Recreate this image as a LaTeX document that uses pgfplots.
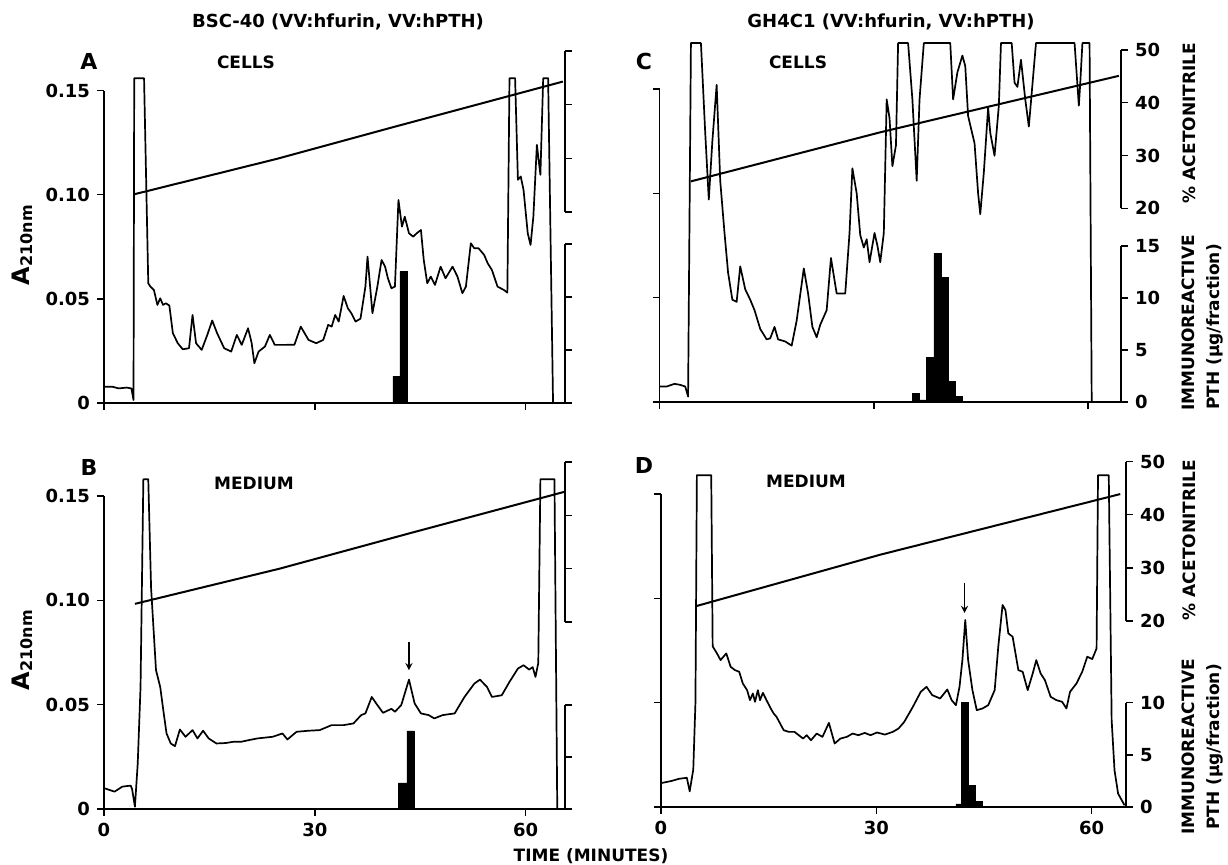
\documentclass[border=0pt]{standalone}
\usepackage{fontspec}
\setmainfont{DejaVu Sans}
\usepackage{pgfplots}
\pgfplotsset{compat=1.18}

\pgfplotsset{
  base/.style={scale only axis, anchor=south west, xmin=0, clip=false,
    tick align=outside, major tick length=3.5pt,
    tick style={black, line width=0.7pt},
    axis line style={line width=0.7pt},
    ticklabel style={font=\fontsize{9}{10}\selectfont\bfseries}},
  main/.style={base, axis x line*=bottom, axis y line*=left, ymin=0, ymax=0.15,
    xtick={0,30,60}, ytick={0,0.05,0.1,0.15}, xticklabels={}, yticklabels={}},
  side/.style={base, axis x line=none, axis y line*=right, yticklabels={}},
  trace/.style={black, line width=0.85pt, mark=none, line join=round},
  grad/.style={black, line width=1pt, mark=none},
  bars/.style={ybar interval, fill=black, draw=black, line width=0.3pt},
}
\newcommand{\lab}{\fontsize{8.5}{9}\selectfont\bfseries}
\newcommand{\ttl}{\fontsize{9}{10}\selectfont\bfseries}
\newcommand{\pan}{\fontsize{11}{12}\selectfont\bfseries}
\newcommand{\absl}{{\fontsize{12}{13}\selectfont A}\raisebox{-1.5pt}{\fontsize{8}{9}\selectfont 210nm}}

\begin{document}
\begin{tikzpicture}
\path[use as bounding box] (0,0) rectangle (614pt,432.5pt);

% ---------------- A: BSC-40 cells ----------------
\begin{axis}[main, at={(52pt,231pt)}, width=230.5pt, height=156.15pt, xmax=65.6,
  yticklabels={0,0.05,0.10,0.15}]
\addplot[trace] coordinates {
(0.1,0.0078) (1.2,0.0078) (2.1,0.0070) (3.2,0.0074) (3.9,0.0070) (4.2,0.0014)
(4.3,0.156) (5.7,0.156) (6.3,0.0575) (6.6,0.0559) (7.1,0.0543) (7.6,0.0471)
(8.0,0.0503) (8.4,0.0471) (8.8,0.0479) (9.3,0.0468) (9.8,0.0335) (10.5,0.0287)
(11.2,0.0258) (12.1,0.0263) (12.6,0.0423) (13.1,0.0287) (13.9,0.0255) (14.7,0.0327)
(15.4,0.0396) (16.1,0.0335) (17.1,0.0263) (18.1,0.0247) (18.9,0.0327) (19.6,0.0279)
(20.5,0.0359) (21.0,0.0290) (21.4,0.0191) (22.0,0.0247) (22.9,0.0271) (23.6,0.0327)
(24.3,0.0279) (25.7,0.0279) (27.1,0.0280) (28.0,0.0367) (29.1,0.0303) (30.2,0.0287)
(31.2,0.0303) (31.9,0.0375) (32.4,0.0367) (32.9,0.0423) (33.4,0.0391) (34.1,0.0514)
(34.7,0.0455) (35.2,0.0431) (35.8,0.0391) (36.5,0.0405) (37.2,0.0559) (37.5,0.0703)
(38.2,0.0431) (38.9,0.0559) (39.5,0.0687) (40.0,0.0655) (40.4,0.0599) (40.9,0.0551)
(41.4,0.0559) (41.9,0.0975) (42.4,0.0847) (42.8,0.0895) (43.4,0.0815) (44.0,0.0799)
(44.5,0.0815) (45.1,0.0831) (45.5,0.0687) (46.0,0.0575) (46.5,0.0607) (47.1,0.0567)
(47.9,0.0655) (48.6,0.0599) (49.6,0.0655) (50.3,0.0607) (51.0,0.0527) (51.5,0.0559)
(52.2,0.0767) (52.7,0.0743) (53.3,0.0743) (54.1,0.0711) (54.6,0.0671) (55.2,0.0639)
(56.0,0.0559) (56.9,0.0543) (57.4,0.0530) (57.7,0.156) (58.5,0.156) (58.9,0.1072)
(59.3,0.1088) (59.7,0.1024) (60.3,0.0815) (60.7,0.0759) (61.1,0.0895) (61.6,0.124)
(62.1,0.1096) (62.5,0.156) (63.2,0.156) (63.9,0)
};
\end{axis}
\begin{axis}[side, at={(52pt,326.5pt)}, width=230.5pt, height=80.5pt, xmax=65.6,
  ymin=20, ymax=50, ytick={20,30,40,50}]
\addplot[grad] coordinates {(4.3,23.3) (24.6,29.9) (41.4,35.9) (65.3,44.3)};
\end{axis}
\begin{axis}[side, at={(52pt,231pt)}, width=230.5pt, height=79.5pt, xmax=65.6,
  ymin=0, ymax=15, ytick={0,5,10,15}]
\addplot[bars] coordinates {(41.1,2.5) (42.1,12.4) (43.1,12.4)};
\end{axis}

% ---------------- B: BSC-40 medium ----------------
\begin{axis}[main, at={(52pt,28pt)}, width=230.5pt, height=156.5pt, xmax=65.6,
  yticklabels={0,0.05,0.10,0.15}, xticklabels={0,30,60}]
\addplot[trace] coordinates {
(0.1,0.0099) (1.5,0.0083) (2.6,0.0107) (3.8,0.0112) (4.0,0.0095) (4.4,0.0011)
(4.8,0.0218) (5.2,0.0585) (5.6,0.158) (6.3,0.158) (6.7,0.106) (7.4,0.0665)
(8.0,0.0585) (8.5,0.0458) (8.9,0.0362) (9.5,0.0314) (10.1,0.0301) (10.8,0.0381)
(11.6,0.0346) (12.6,0.0378) (13.3,0.0338) (14.1,0.0375) (14.9,0.0338) (16.0,0.0314)
(17.3,0.0316) (18.4,0.0322) (19.5,0.0322) (20.6,0.0330) (21.8,0.0338) (24.0,0.0346)
(25.4,0.0362) (26.1,0.0333) (27.4,0.0370) (29.1,0.0375) (30.7,0.0378) (32.4,0.0402)
(34.1,0.0402) (35.5,0.0410) (36.6,0.0450) (37.2,0.0458) (38.1,0.0537) (38.9,0.0498)
(39.7,0.0461) (40.9,0.0480) (41.4,0.0466) (42.3,0.0498) (43.4,0.0620) (44.2,0.0506)
(45.1,0.0458) (46.2,0.0450) (47.0,0.0434) (48.2,0.0450) (49.9,0.0458) (51.3,0.0537)
(52.7,0.0601) (53.5,0.0620) (54.5,0.0585) (55.2,0.0537) (56.6,0.0545) (57.7,0.0609)
(58.9,0.0673) (59.7,0.0689) (60.5,0.0668) (61.0,0.0680) (61.4,0.0633) (61.8,0.070)
(62.1,0.158) (64.1,0.158) (64.5,0)
};
\draw[-stealth, line width=0.6pt] (axis cs:43.4,0.080) -- (axis cs:43.4,0.0665);
\end{axis}
\begin{axis}[side, at={(52pt,121.5pt)}, width=230.5pt, height=80pt, xmax=65.6,
  ymin=20, ymax=50, ytick={20,30,40,50}]
\addplot[grad] coordinates {(4.4,23.4) (25,30.0) (43.4,36.6) (65.5,44.4)};
\end{axis}
\begin{axis}[side, at={(52pt,28pt)}, width=230.5pt, height=52pt, xmax=65.6,
  ymin=0, ymax=10, ytick={0,5,10}]
\addplot[bars] coordinates {(41.9,2.5) (43.1,7.5) (44.1,7.5)};
\end{axis}

% ---------------- C: GH4C1 cells ----------------
\begin{axis}[main, at={(329.75pt,231.5pt)}, width=230.75pt, height=156.5pt, xmax=64.6]
\addplot[trace] coordinates {
(0.1,0.0074) (1.0,0.0074) (2.1,0.0087) (2.9,0.0082) (3.6,0.0074) (4.0,0.0026)
(4.4,0.172) (5.8,0.172) (6.4,0.129) (6.9,0.097) (7.4,0.125) (8.0,0.152)
(8.5,0.106) (9.1,0.081) (9.6,0.062) (10.2,0.049) (10.8,0.048) (11.3,0.065)
(12.0,0.054) (12.7,0.049) (13.3,0.044) (14.1,0.035) (15.0,0.030) (15.5,0.0305)
(16.1,0.036) (16.6,0.030) (17.6,0.029) (18.5,0.027) (19.2,0.039) (20.2,0.064)
(20.8,0.052) (21.4,0.036) (22.0,0.031) (22.5,0.037) (23.4,0.044) (24.0,0.069)
(24.8,0.052) (25.6,0.052) (26.0,0.052) (26.6,0.081) (27.0,0.112) (27.6,0.100)
(28.1,0.080) (28.6,0.074) (29.0,0.078) (29.4,0.067) (30.1,0.081) (30.5,0.075)
(30.9,0.067) (31.4,0.081) (31.8,0.145) (32.2,0.136) (32.6,0.113) (33.1,0.123)
(33.4,0.172) (34.8,0.172) (35.4,0.145) (36.0,0.106) (36.4,0.145) (37.0,0.172)
(40.7,0.172) (41.1,0.145) (41.7,0.158) (42.4,0.166) (42.8,0.161) (43.2,0.137)
(44.1,0.124) (44.6,0.100) (44.9,0.090) (45.4,0.110) (46.0,0.141) (46.3,0.129)
(46.9,0.118) (47.5,0.142) (47.8,0.172) (49.3,0.172) (49.7,0.153) (50.1,0.151)
(50.6,0.164) (51.2,0.145) (51.7,0.132) (52.2,0.152) (52.7,0.172) (58.1,0.172)
(58.5,0.152) (58.7,0.142) (58.9,0.153) (59.2,0.172) (60.2,0.172) (60.5,0)
};
\end{axis}
\begin{axis}[side, at={(329.75pt,328.35pt)}, width=230.75pt, height=79.15pt, xmax=64.6,
  ymin=20, ymax=50, ytick={20,30,40,50}, yticklabels={20,30,40,50}]
\addplot[grad] coordinates {(4.4,25.1) (30.9,34.4) (64.3,45.1)};
\end{axis}
\begin{axis}[side, at={(329.75pt,231.5pt)}, width=230.75pt, height=78pt, xmax=64.6,
  ymin=0, ymax=15, ytick={0,5,10,15}, yticklabels={0,5,10,15}]
\addplot[bars] coordinates {(35.4,0.8) (36.4,0.2) (37.4,4.3) (38.4,14.3) (39.4,12.0)
  (40.4,2.0) (41.4,0.5) (42.4,0.5)};
\end{axis}

% ---------------- D: GH4C1 medium ----------------
\begin{axis}[main, at={(330.5pt,29pt)}, width=232.5pt, height=156.5pt, xmax=64.8,
  xticklabels={0,30,60}]
\addplot[trace] coordinates {
(0.1,0.0115) (1.5,0.0125) (2.5,0.0135) (3.6,0.014) (4.0,0.0075) (4.5,0.018)
(4.8,0.05) (5.0,0.159) (7.0,0.159) (7.2,0.077) (7.8,0.0736) (8.3,0.0704)
(9.1,0.0736) (9.7,0.0672) (10.3,0.0656) (10.9,0.0648) (11.4,0.0592) (12.0,0.056)
(12.4,0.0512) (12.8,0.0544) (13.1,0.0504) (13.5,0.056) (13.8,0.0512) (14.2,0.0547)
(14.7,0.0512) (15.3,0.0472) (15.7,0.0448) (16.1,0.0432) (16.6,0.040) (17.1,0.0368)
(17.8,0.036) (18.6,0.036) (19.2,0.0344) (19.8,0.0328) (20.3,0.0344) (20.9,0.032)
(21.7,0.0352) (22.5,0.0336) (23.4,0.0403) (24.2,0.0304) (25.0,0.0328) (25.9,0.0336)
(26.7,0.0352) (27.5,0.0344) (28.4,0.0355) (29.2,0.0344) (30.1,0.0357) (31.2,0.0347)
(32.3,0.036) (33.1,0.0376) (33.9,0.0408) (35.1,0.048) (36.2,0.0552) (37.0,0.0576)
(37.8,0.0536) (38.9,0.052) (39.9,0.0563) (40.5,0.0512) (41.1,0.0488) (41.6,0.0576)
(42.0,0.0704) (42.4,0.0896) (42.8,0.0704) (43.4,0.056) (44.0,0.0464) (44.8,0.0472)
(45.6,0.0488) (46.5,0.056) (47.0,0.0768) (47.6,0.0968) (48.0,0.0944) (48.4,0.0832)
(49.0,0.0816) (49.8,0.0656) (50.4,0.0648) (51.1,0.056) (51.8,0.064) (52.3,0.0704)
(52.9,0.064) (53.5,0.0608) (54.3,0.0528) (55.1,0.0512) (55.9,0.0504) (56.5,0.0472)
(57.0,0.0552) (57.9,0.0592) (58.7,0.0648) (59.4,0.072) (60.1,0.0709) (60.7,0.076)
(60.9,0.159) (62.4,0.159) (62.8,0.0416) (63.2,0.0176) (63.7,0.0064) (64.6,0.0008)
};
\draw[-stealth, line width=0.6pt] (axis cs:42.3,0.1075) -- (axis cs:42.3,0.093);
\end{axis}
\begin{axis}[side, at={(330.5pt,122pt)}, width=232.5pt, height=79.65pt, xmax=64.8,
  ymin=20, ymax=50, ytick={20,30,40,50}, yticklabels={20,30,40,50}]
\addplot[grad] coordinates {(4.9,22.8) (30.6,32.5) (64.0,43.9)};
\end{axis}
\begin{axis}[side, at={(330.5pt,29pt)}, width=232.5pt, height=52.15pt, xmax=64.8,
  ymin=0, ymax=10, ytick={0,5,10}, yticklabels={0,5,10}]
\addplot[bars] coordinates {(41.1,0.3) (41.9,10.0) (42.8,2.1) (43.8,0.5) (44.8,0.5)};
\end{axis}

% ---------------- texts ----------------
\node[font=\ttl] at (169pt,421.5pt) {BSC-40 (VV:hfurin, VV:hPTH)};
\node[font=\ttl] at (445.5pt,421.5pt) {GH4C1 (VV:hfurin, VV:hPTH)};
\node[font=\pan] at (44.5pt,401.5pt) {A};
\node[font=\pan] at (322pt,401.5pt) {C};
\node[font=\pan] at (44.5pt,199pt) {B};
\node[font=\pan] at (322pt,200pt) {D};
\node[font=\lab] at (123pt,401.5pt) {CELLS};
\node[font=\lab] at (399pt,401.5pt) {CELLS};
\node[font=\lab] at (127pt,191pt) {MEDIUM};
\node[font=\lab] at (403pt,192pt) {MEDIUM};
\node[rotate=90, font=\bfseries] at (11pt,310pt) {\absl};
\node[rotate=90, font=\bfseries] at (11pt,107.5pt) {\absl};
\node[rotate=90, font=\lab] at (594.5pt,371pt) {\% ACETONITRILE};
\node[rotate=90, font=\lab] at (594.5pt,162.5pt) {\% ACETONITRILE};
\node[rotate=90, font=\lab] at (594pt,271pt) {IMMUNOREACTIVE};
\node[rotate=90, font=\lab] at (607.5pt,269pt) {PTH (μg/fraction)};
\node[rotate=90, font=\lab] at (594pt,59pt) {IMMUNOREACTIVE};
\node[rotate=90, font=\lab] at (607.5pt,59pt) {PTH (μg/fraction)};
\node[font=\lab] at (295.5pt,4.5pt) {TIME (MINUTES)};
\end{tikzpicture}
\end{document}
